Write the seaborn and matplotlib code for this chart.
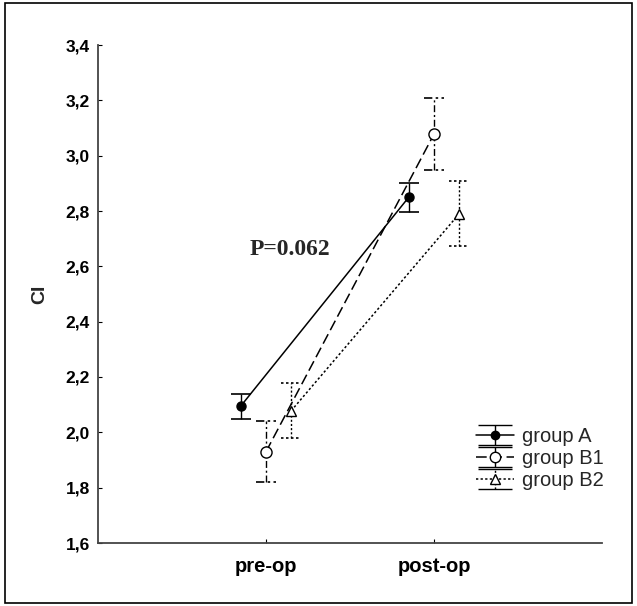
import numpy as np
import pandas as pd
import matplotlib
matplotlib.use("Agg")
import matplotlib.pyplot as plt
from matplotlib.patches import Rectangle
from matplotlib.ticker import FuncFormatter
from matplotlib.legend_handler import HandlerErrorbar
import seaborn as sns

# ---- data ----
phases = ["pre-op", "post-op"]
groups = ["group A", "group B1", "group B2"]
group_a_mean = [2.095, 2.85]
group_a_err = [0.045, 0.052]
group_b1_mean = [1.93, 3.078]
group_b1_err = [0.11, 0.13]
group_b2_mean = [2.078, 2.79]
group_b2_err = [0.10, 0.117]
y_ticks = [1.6, 1.8, 2.0, 2.2, 2.4, 2.6, 2.8, 3.0, 3.2, 3.4]
annotation = "P=0.062"

means = [group_a_mean, group_b1_mean, group_b2_mean]
errs = [group_a_err, group_b1_err, group_b2_err]
offsets = {"group A": -0.15, "group B1": 0.0, "group B2": 0.15}

rows = []
for g, m, e in zip(groups, means, errs):
    for i, ph in enumerate(phases):
        rows.append({"group": g, "phase": ph, "x": i + offsets[g], "CI": m[i], "err": e[i]})
df = pd.DataFrame(rows)

sns.set_style("ticks")
plt.rcParams['font.family'] = ['Liberation Sans', 'DejaVu Sans']

fig = plt.figure(figsize=(6.37, 6.06), dpi=100)
ax = fig.add_axes([98/637, 1-543/606, 504/637, 498/606])

line_styles = {"group A": "-", "group B1": (0, (7, 3)), "group B2": (0, (1.5, 1.5))}
bar_styles = {"group A": "-", "group B1": (0, (5, 2, 1.5, 2)), "group B2": (0, (1.5, 1.5))}
markers = {"group A": "o", "group B1": "o", "group B2": "^"}
faces = {"group A": "black", "group B1": "white", "group B2": "white"}
msizes = {"group A": 6.5, "group B1": 8, "group B2": 7.5}
cap_half = 0.058

for g in groups:
    sub = df[df["group"] == g]
    sns.lineplot(data=sub, x="x", y="CI", ax=ax, color="black", lw=1.1,
                 linestyle=line_styles[g], marker=markers[g],
                 markerfacecolor=faces[g], markeredgecolor="black",
                 markersize=msizes[g], markeredgewidth=1.0, legend=False,
                 zorder=3)
    eb = ax.errorbar(sub["x"], sub["CI"], yerr=sub["err"], fmt="none",
                     ecolor="black", elinewidth=1.0, capsize=0, zorder=2)
    eb[2][0].set_linestyle(bar_styles[g])
    for xv, m, e in zip(sub["x"], sub["CI"], sub["err"]):
        ax.hlines([m - e, m + e], xv - cap_half, xv + cap_half, color="black",
                  lw=1.2, linestyles=[bar_styles[g]], zorder=2)
    # legend proxy
    pr = ax.errorbar([np.nan], [np.nan], yerr=[0.1], color="black",
                     linestyle=line_styles[g], marker=markers[g],
                     markerfacecolor=faces[g], markeredgecolor="black",
                     markersize=msizes[g] - 0.5, lw=1.1, ecolor="black",
                     elinewidth=1.0, capsize=12, capthick=1.0, label=g)
    pr[2][0].set_linestyle(bar_styles[g])

ax.set_xlim(-1, 2)
ax.set_ylim(1.6, 3.4)
ax.set_xticks([0, 1])
ax.set_xticklabels(phases, fontsize=14.5, fontweight="bold")
ax.set_yticks(y_ticks)
ax.yaxis.set_major_formatter(FuncFormatter(lambda v, p: f"{v:.1f}".replace(".", ",")))
for lab in ax.get_yticklabels():
    lab.set_fontweight("bold")
    lab.set_fontsize(12.5)
ax.tick_params(direction="in", length=3, width=0.8, colors="black", pad=6)
ax.tick_params(axis="x", pad=10)
ax.set_xlabel("")
ax.set_ylabel("CI", fontsize=14, fontweight="bold")
ax.yaxis.set_label_coords(-0.098, 0.5)
for s in ["top", "right"]:
    ax.spines[s].set_visible(False)
for s in ["left", "bottom"]:
    ax.spines[s].set_color("#444444")
    ax.spines[s].set_linewidth(1.3)

ax.text(0.14, 2.66, annotation, fontsize=17, fontweight="bold",
        family=["Liberation Serif", "DejaVu Serif"], ha="center", va="center")

ax.legend(loc="upper left", bbox_to_anchor=(0.714, 0.27), frameon=False,
          fontsize=14.5, handlelength=1.9, handletextpad=0.4, labelspacing=0.15,
          handler_map={type(pr): HandlerErrorbar(yerr_size=0.5)})

fig.patches.append(Rectangle((5/637, 3/606), 627/637, 600/606, transform=fig.transFigure,
                             fill=False, edgecolor="black", lw=1.2))

fig.savefig("out.png", dpi=100)
